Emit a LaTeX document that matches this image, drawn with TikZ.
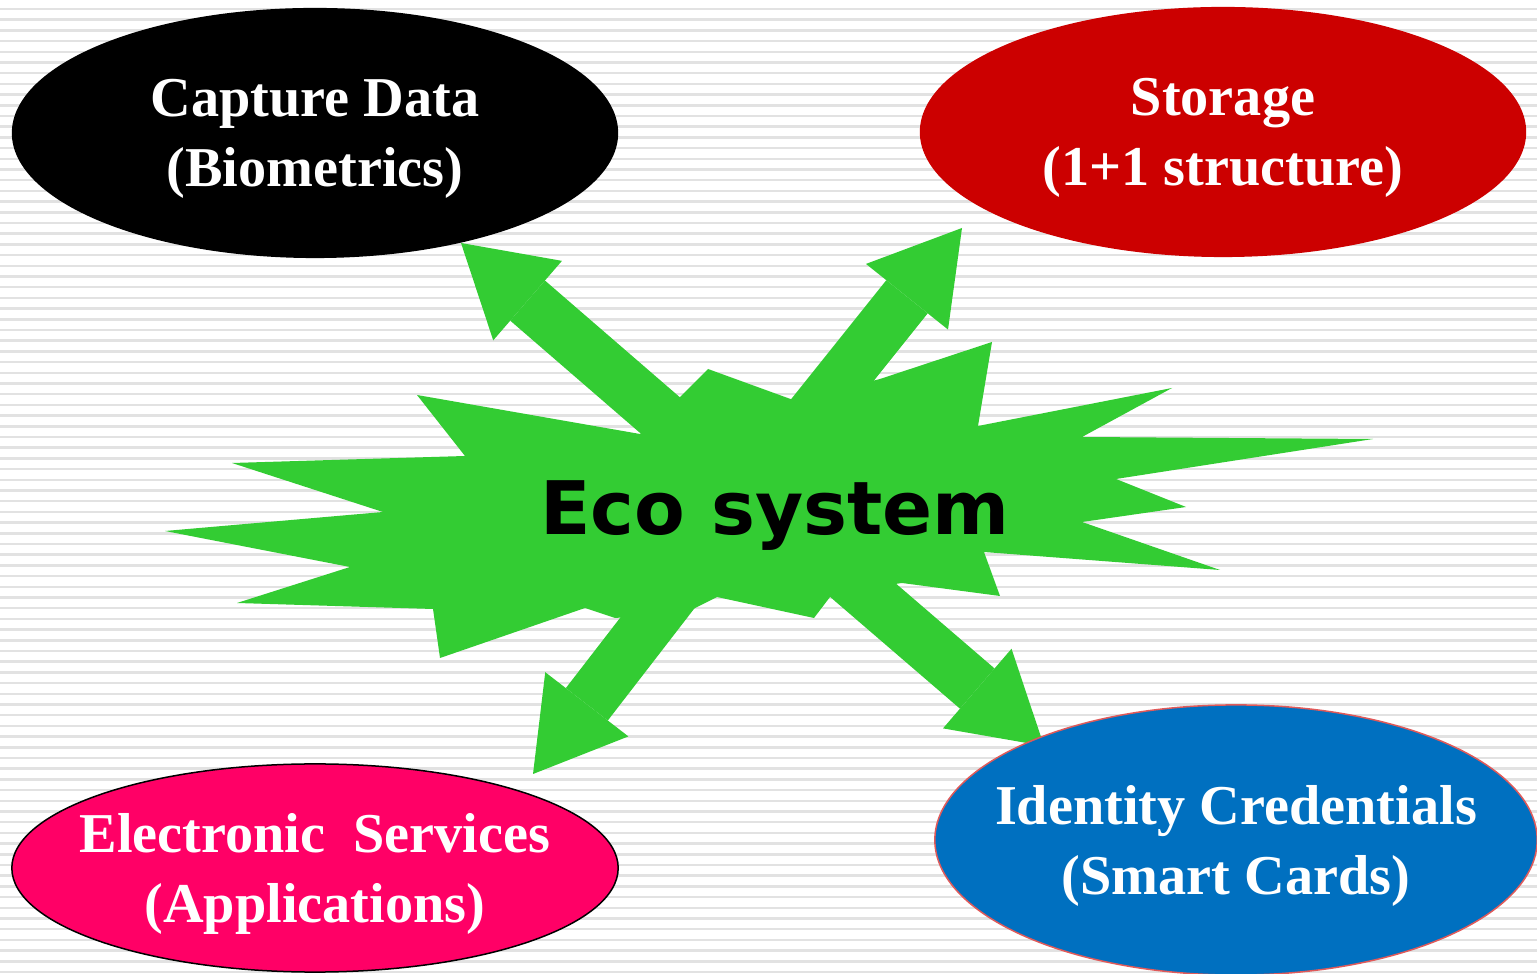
\documentclass[tikz,border=0pt]{standalone}
\usepackage{fontspec}
\usepackage{tikz}
\usetikzlibrary{arrows.meta,shapes.geometric}
\newfontfamily\ovalfont{Liberation Serif}
\newfontfamily\ecofont{DejaVu Sans}
\definecolor{ecogreen}{HTML}{33CC33}
\definecolor{storered}{HTML}{CC0000}
\definecolor{servpink}{HTML}{FF0066}
\definecolor{identblue}{HTML}{0070C0}
\definecolor{identrim}{HTML}{E05A5A}
\definecolor{stripegray}{HTML}{E2E2E2}
\tikzset{oval/.style={ellipse, inner xsep=-1.5cm, inner ysep=-0.5cm, text=white,
           text depth=0pt, align=center,
           font=\ovalfont\bfseries\fontsize{16}{19.9}\selectfont},
         spoke/.style={draw=ecogreen, line width=0.53cm,
           -{Triangle[width=1.05cm,length=0.88cm,line width=0pt]}},
         stripe/.style={draw=stripegray, line width=0.025cm}}

\begin{document}
\begin{tikzpicture}[x=0.01cm,y=-0.01cm]
\useasboundingbox (0,0) rectangle (1537,974);
\fill[white] (0,0) rectangle (1537,974);
\foreach \y in {9,19.7,...,974}
  \draw[stripe] (0,\y) -- (1537,\y);
\fill[ecogreen] (417,395) -- (640,434) -- (679,398) -- (708,369) -- (796,401)
  -- (880,379) -- (992,342) -- (978,426) -- (1172,388) -- (1082,437)
  -- (1373,439) -- (1116,479) -- (1186,507) -- (1082,522) -- (1220,570)
  -- (984,552) -- (1000,596) -- (902,583) -- (833,593) -- (814,618)
  -- (717,597) -- (685,613) -- (615,618) -- (585,608) -- (440,658)
  -- (433,609) -- (237,603) -- (350,567) -- (165,531) -- (383,512)
  -- (232,463) -- (465,456) -- cycle;
\coordinate (hub) at (750,493);
\coordinate (capture-tip) at (461,243);
\coordinate (storage-tip) at (962,228);
\coordinate (services-tip) at (533,774);
\coordinate (identity-tip) at (1044,746);
\draw[spoke] (hub) -- (capture-tip);
\draw[spoke] (hub) -- (storage-tip);
\draw[spoke] (hub) -- (services-tip);
\draw[spoke] (hub) -- (identity-tip);
\node (capture) [oval, fill=black, minimum width=6.06cm, minimum height=2.5cm]
  at (315,133) {Capture Data\\(Biometrics)};
\node (storage) [oval, fill=storered, minimum width=6.06cm, minimum height=2.5cm]
  at (1223,132) {Storage\\(1+1 structure)};
\node (services) [oval, fill=servpink, draw=black, line width=0.015cm,
  minimum width=6.06cm, minimum height=2.08cm]
  at (315,868) {Electronic\ \ Services\\(Applications)};
\node (identity) [oval, fill=identblue, draw=identrim, line width=0.015cm,
  minimum width=6.02cm, minimum height=2.7cm]
  at (1236,840) {Identity Credentials\\(Smart Cards)};
\node (eco) [anchor=base, font=\ecofont\bfseries\fontsize{21}{25}\selectfont]
  at (775,535) {Eco system};
\end{tikzpicture}
\end{document}
